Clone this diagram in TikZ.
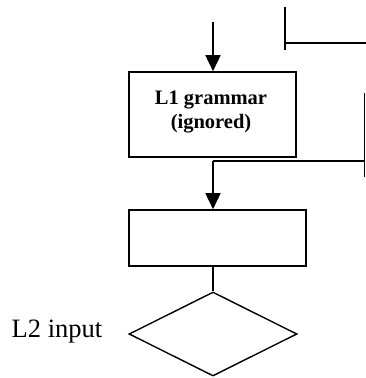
\documentclass[tikz,border=0pt]{standalone}
\usepackage{fontspec}
\setmainfont{Liberation Serif}
\usetikzlibrary{arrows.meta,shapes.geometric}
\begin{document}
\begin{tikzpicture}[x=1pt,y=-1pt,
  ln/.style={line width=1.6pt},
  arr/.style={ln,-{Triangle[width=15pt,length=16pt]}},
  boxstyle/.style={draw,line width=1.6pt,inner sep=0pt},
  boxtext/.style={font=\bfseries\fontsize{20.5}{24}\selectfont,anchor=base}]
\useasboundingbox (0,0) rectangle (366,378);
% boxes
\node[boxstyle,minimum width=167pt,minimum height=85pt] (b1) at (212.5,114.5) {};
\node[boxtext] (t1) at (211,104) {L1 grammar};
\node[boxtext] (t2) at (211,128) {(ignored)};
\node[boxstyle,minimum width=177pt,minimum height=56pt] (b2) at (217.5,238) {};
\node[draw,line width=1.4pt,diamond,minimum width=168pt,minimum height=84pt,inner sep=0pt,aspect=2] (d) at (213,334) {};
\node[font=\fontsize{26.5}{30}\selectfont,anchor=base] (lab) at (57,337) {L2 input};
% coordinates
\coordinate (t0) at (213,22);
\coordinate (c1) at (285,7);
\coordinate (c2) at (285,50);
\coordinate (c3) at (285,43);
\coordinate (c4) at (366,43);
\coordinate (r1) at (364.5,93);
\coordinate (r2) at (364.5,177);
\coordinate (r3) at (364.5,161);
\coordinate (j) at (213,161);
% connectors
\draw[arr] (t0) -- (b1.north -| t0);
\draw[ln] (c1) -- (c2);
\draw[ln] (c3) -- (c4);
\draw[ln] (r1) -- (r2);
\draw[ln] (r3) -- (j);
\draw[arr] (j) -- (b2.north -| j);
\draw[ln] (b2.south -| d.north) -- (d.north);
\end{tikzpicture}
\end{document}
